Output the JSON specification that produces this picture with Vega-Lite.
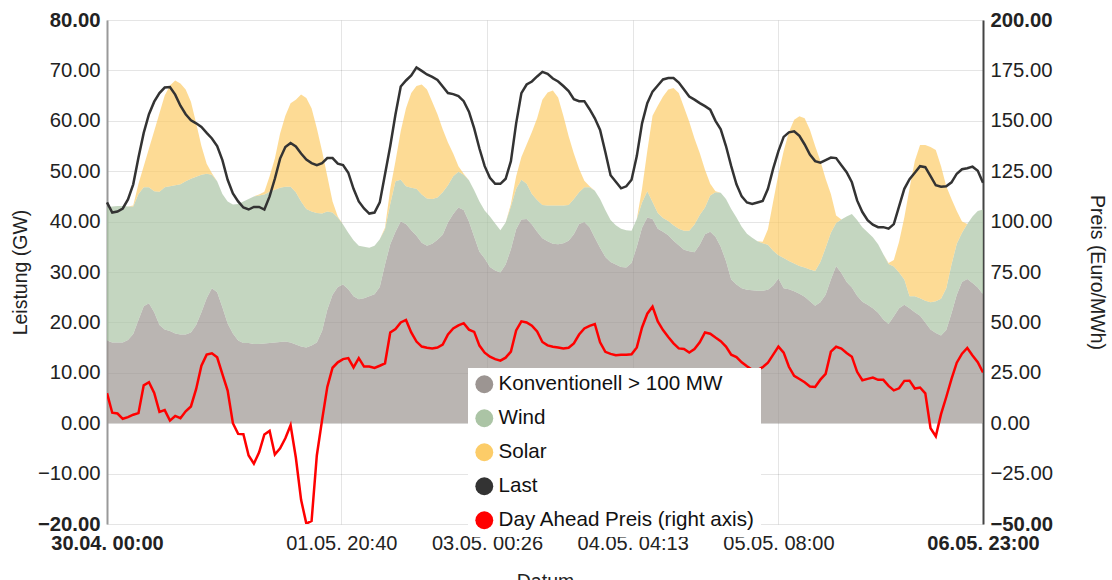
{
"$schema": "https://vega.github.io/schema/vega-lite/v6.json",
"width": 876, "height": 504,
"autosize": {"type": "none"},
"padding": {"left": 107, "top": 20, "right": 129, "bottom": 56},
"config": {"view": {"stroke": null}, "font": "Liberation Sans",
 "axis": {"labelFontSize": 20.3, "labelColor": "#222", "titleFontSize": 19.5, "titleFontWeight": "normal", "titleColor": "#222", "ticks": false}},
"data": {"values": [
{"t":"2018-04-30T00:00","k":16.4,"w":26.4,"s":0,"l":43.8,"p":14.9},
{"t":"2018-04-30T01:00","k":16.0,"w":27.0,"s":0,"l":41.8,"p":5.2},
{"t":"2018-04-30T02:00","k":16.0,"w":27.1,"s":0,"l":42.0,"p":4.8},
{"t":"2018-04-30T03:00","k":16.0,"w":27.1,"s":0,"l":42.6,"p":2.2},
{"t":"2018-04-30T04:00","k":16.5,"w":26.5,"s":0,"l":44.4,"p":3.0},
{"t":"2018-04-30T05:00","k":17.7,"w":25.3,"s":0.2,"l":47.4,"p":4.2},
{"t":"2018-04-30T06:00","k":20.5,"w":25.0,"s":2.0,"l":52.7,"p":5.0},
{"t":"2018-04-30T07:00","k":23.2,"w":23.6,"s":4.2,"l":57.6,"p":18.8},
{"t":"2018-04-30T08:00","k":23.8,"w":23.0,"s":7.7,"l":61.3,"p":20.3},
{"t":"2018-04-30T09:00","k":22.0,"w":24.0,"s":12.0,"l":63.8,"p":15.0},
{"t":"2018-04-30T10:00","k":19.5,"w":26.4,"s":15.6,"l":65.5,"p":5.6},
{"t":"2018-04-30T11:00","k":18.6,"w":28.2,"s":18.2,"l":66.6,"p":6.5},
{"t":"2018-04-30T12:00","k":18.3,"w":28.7,"s":20.0,"l":66.7,"p":1.3},
{"t":"2018-04-30T13:00","k":17.8,"w":29.4,"s":20.8,"l":65.2,"p":3.6},
{"t":"2018-04-30T14:00","k":17.6,"w":29.8,"s":20.0,"l":63.0,"p":2.5},
{"t":"2018-04-30T15:00","k":17.6,"w":30.4,"s":18.2,"l":61.3,"p":5.9},
{"t":"2018-04-30T16:00","k":18.0,"w":30.5,"s":15.3,"l":60.1,"p":8.3},
{"t":"2018-04-30T17:00","k":19.5,"w":29.4,"s":10.6,"l":59.5,"p":17.0},
{"t":"2018-04-30T18:00","k":22.0,"w":27.3,"s":5.7,"l":58.8,"p":28.5},
{"t":"2018-04-30T19:00","k":24.8,"w":24.7,"s":2.0,"l":57.6,"p":34.0},
{"t":"2018-04-30T20:00","k":26.8,"w":22.5,"s":0.3,"l":56.5,"p":34.7},
{"t":"2018-04-30T21:00","k":26.0,"w":22.0,"s":0,"l":55.0,"p":32.7},
{"t":"2018-04-30T22:00","k":23.0,"w":22.5,"s":0,"l":52.2,"p":24.4},
{"t":"2018-04-30T23:00","k":19.8,"w":24.2,"s":0,"l":48.3,"p":16.2},
{"t":"2018-05-01T00:00","k":17.8,"w":25.6,"s":0,"l":45.6,"p":0.0},
{"t":"2018-05-01T01:00","k":16.4,"w":27.1,"s":0,"l":44.0,"p":-5.3},
{"t":"2018-05-01T02:00","k":15.9,"w":28.1,"s":0,"l":42.8,"p":-5.5},
{"t":"2018-05-01T03:00","k":15.9,"w":28.6,"s":0,"l":42.4,"p":-16.0},
{"t":"2018-05-01T04:00","k":15.7,"w":29.3,"s":0,"l":42.9,"p":-20.1},
{"t":"2018-05-01T05:00","k":15.7,"w":29.5,"s":0.2,"l":42.9,"p":-14.4},
{"t":"2018-05-01T06:00","k":15.8,"w":29.6,"s":0.5,"l":42.4,"p":-5.6},
{"t":"2018-05-01T07:00","k":15.9,"w":30.0,"s":3.1,"l":45.0,"p":-3.8},
{"t":"2018-05-01T08:00","k":16.0,"w":30.3,"s":6.2,"l":48.5,"p":-15.5},
{"t":"2018-05-01T09:00","k":16.1,"w":30.6,"s":10.8,"l":52.5,"p":-12.5},
{"t":"2018-05-01T10:00","k":16.2,"w":30.7,"s":14.1,"l":54.8,"p":-7.5},
{"t":"2018-05-01T11:00","k":16.0,"w":30.9,"s":16.6,"l":55.6,"p":-1.0},
{"t":"2018-05-01T12:00","k":15.6,"w":30.2,"s":18.4,"l":54.9,"p":-17.0},
{"t":"2018-05-01T13:00","k":15.2,"w":28.8,"s":21.2,"l":53.5,"p":-38.0},
{"t":"2018-05-01T14:00","k":15.0,"w":27.5,"s":22.0,"l":52.3,"p":-49.8},
{"t":"2018-05-01T15:00","k":15.4,"w":26.6,"s":20.5,"l":51.6,"p":-48.5},
{"t":"2018-05-01T16:00","k":16.0,"w":25.7,"s":16.8,"l":51.2,"p":-16.0},
{"t":"2018-05-01T17:00","k":18.3,"w":23.3,"s":12.4,"l":51.6,"p":1.5},
{"t":"2018-05-01T18:00","k":22.5,"w":19.5,"s":7.0,"l":52.6,"p":18.0},
{"t":"2018-05-01T19:00","k":25.5,"w":16.3,"s":2.2,"l":52.6,"p":27.5},
{"t":"2018-05-01T20:00","k":27.0,"w":13.8,"s":0.2,"l":51.5,"p":30.2},
{"t":"2018-05-01T21:00","k":27.5,"w":11.9,"s":0,"l":51.2,"p":31.8},
{"t":"2018-05-01T22:00","k":26.6,"w":11.2,"s":0,"l":49.7,"p":32.3},
{"t":"2018-05-01T23:00","k":25.2,"w":11.1,"s":0,"l":46.5,"p":27.7},
{"t":"2018-05-02T00:00","k":24.6,"w":10.6,"s":0,"l":44.0,"p":32.3},
{"t":"2018-05-02T01:00","k":24.8,"w":10.2,"s":0,"l":42.6,"p":28.1},
{"t":"2018-05-02T02:00","k":25.2,"w":9.6,"s":0,"l":41.6,"p":28.1},
{"t":"2018-05-02T03:00","k":25.6,"w":9.6,"s":0,"l":41.8,"p":27.4},
{"t":"2018-05-02T04:00","k":27.0,"w":9.5,"s":0,"l":43.8,"p":28.5},
{"t":"2018-05-02T05:00","k":31.5,"w":7.0,"s":0.3,"l":49.4,"p":29.7},
{"t":"2018-05-02T06:00","k":35.5,"w":8.0,"s":3.0,"l":55.0,"p":45.0},
{"t":"2018-05-02T07:00","k":38.0,"w":10.0,"s":4.0,"l":61.3,"p":46.7},
{"t":"2018-05-02T08:00","k":40.0,"w":8.3,"s":9.7,"l":66.8,"p":50.0},
{"t":"2018-05-02T09:00","k":39.5,"w":7.5,"s":15.5,"l":68.0,"p":51.2},
{"t":"2018-05-02T10:00","k":38.3,"w":8.4,"s":18.8,"l":69.0,"p":45.0},
{"t":"2018-05-02T11:00","k":37.2,"w":9.3,"s":20.4,"l":70.6,"p":40.5},
{"t":"2018-05-02T12:00","k":35.8,"w":9.6,"s":21.8,"l":69.9,"p":38.0},
{"t":"2018-05-02T13:00","k":35.2,"w":9.4,"s":21.6,"l":69.2,"p":37.4},
{"t":"2018-05-02T14:00","k":35.6,"w":8.9,"s":19.3,"l":68.7,"p":37.1},
{"t":"2018-05-02T15:00","k":36.4,"w":8.4,"s":16.5,"l":68.1,"p":37.5},
{"t":"2018-05-02T16:00","k":37.4,"w":8.4,"s":12.5,"l":66.8,"p":39.0},
{"t":"2018-05-02T17:00","k":39.8,"w":7.4,"s":8.5,"l":65.5,"p":44.0},
{"t":"2018-05-02T18:00","k":41.5,"w":7.5,"s":4.5,"l":65.3,"p":47.0},
{"t":"2018-05-02T19:00","k":42.8,"w":7.1,"s":1.1,"l":64.9,"p":48.5},
{"t":"2018-05-02T20:00","k":42.3,"w":7.0,"s":0.2,"l":63.9,"p":49.6},
{"t":"2018-05-02T21:00","k":40.0,"w":8.2,"s":0,"l":61.8,"p":46.4},
{"t":"2018-05-02T22:00","k":37.0,"w":9.2,"s":0,"l":58.5,"p":45.3},
{"t":"2018-05-02T23:00","k":34.0,"w":10.0,"s":0,"l":54.5,"p":38.5},
{"t":"2018-05-03T00:00","k":32.7,"w":9.5,"s":0,"l":51.0,"p":35.0},
{"t":"2018-05-03T01:00","k":31.0,"w":10.0,"s":0,"l":48.7,"p":33.0},
{"t":"2018-05-03T02:00","k":30.3,"w":9.3,"s":0,"l":47.5,"p":31.8},
{"t":"2018-05-03T03:00","k":29.9,"w":8.4,"s":0,"l":47.5,"p":31.0},
{"t":"2018-05-03T04:00","k":31.5,"w":8.3,"s":0,"l":48.5,"p":32.5},
{"t":"2018-05-03T05:00","k":34.5,"w":8.5,"s":0.5,"l":52.0,"p":35.5},
{"t":"2018-05-03T06:00","k":38.5,"w":8.0,"s":2.5,"l":59.5,"p":46.0},
{"t":"2018-05-03T07:00","k":40.4,"w":7.9,"s":4.5,"l":65.5,"p":50.5},
{"t":"2018-05-03T08:00","k":40.5,"w":7.0,"s":7.8,"l":67.2,"p":50.0},
{"t":"2018-05-03T09:00","k":39.4,"w":6.1,"s":12.3,"l":67.8,"p":48.4},
{"t":"2018-05-03T10:00","k":38.0,"w":6.3,"s":16.2,"l":68.8,"p":45.5},
{"t":"2018-05-03T11:00","k":36.7,"w":6.6,"s":20.9,"l":69.7,"p":40.3},
{"t":"2018-05-03T12:00","k":36.1,"w":7.1,"s":22.4,"l":69.3,"p":38.6},
{"t":"2018-05-03T13:00","k":35.6,"w":7.6,"s":22.8,"l":68.4,"p":37.9},
{"t":"2018-05-03T14:00","k":35.5,"w":7.7,"s":21.4,"l":67.8,"p":37.6},
{"t":"2018-05-03T15:00","k":35.7,"w":7.5,"s":17.8,"l":66.9,"p":37.1},
{"t":"2018-05-03T16:00","k":36.2,"w":7.1,"s":13.7,"l":65.9,"p":37.4},
{"t":"2018-05-03T17:00","k":37.5,"w":7.0,"s":9.0,"l":64.3,"p":39.6},
{"t":"2018-05-03T18:00","k":39.5,"w":6.3,"s":4.7,"l":63.9,"p":44.0},
{"t":"2018-05-03T19:00","k":39.9,"w":6.9,"s":1.3,"l":63.9,"p":47.0},
{"t":"2018-05-03T20:00","k":38.9,"w":7.9,"s":0.2,"l":62.3,"p":48.3},
{"t":"2018-05-03T21:00","k":36.8,"w":9.3,"s":0,"l":60.5,"p":49.2},
{"t":"2018-05-03T22:00","k":34.8,"w":9.7,"s":0,"l":58.2,"p":40.1},
{"t":"2018-05-03T23:00","k":33.0,"w":9.3,"s":0,"l":53.8,"p":35.4},
{"t":"2018-05-04T00:00","k":32.0,"w":8.3,"s":0,"l":49.2,"p":34.4},
{"t":"2018-05-04T01:00","k":31.5,"w":7.8,"s":0,"l":47.9,"p":33.7},
{"t":"2018-05-04T02:00","k":31.0,"w":7.6,"s":0,"l":46.6,"p":33.9},
{"t":"2018-05-04T03:00","k":30.9,"w":7.4,"s":0,"l":47.0,"p":34.0},
{"t":"2018-05-04T04:00","k":31.8,"w":6.4,"s":0,"l":48.3,"p":34.2},
{"t":"2018-05-04T05:00","k":35.0,"w":5.5,"s":0,"l":53.0,"p":37.6},
{"t":"2018-05-04T06:00","k":38.8,"w":5.0,"s":2.7,"l":59.5,"p":47.5},
{"t":"2018-05-04T07:00","k":40.8,"w":5.2,"s":8.0,"l":63.5,"p":54.3},
{"t":"2018-05-04T08:00","k":40.5,"w":3.4,"s":17.1,"l":65.8,"p":57.8},
{"t":"2018-05-04T09:00","k":38.6,"w":3.1,"s":21.3,"l":67.0,"p":50.5},
{"t":"2018-05-04T10:00","k":38.0,"w":2.7,"s":24.1,"l":68.2,"p":46.2},
{"t":"2018-05-04T11:00","k":37.3,"w":2.8,"s":26.1,"l":68.5,"p":42.8},
{"t":"2018-05-04T12:00","k":36.2,"w":3.1,"s":27.2,"l":68.5,"p":39.6},
{"t":"2018-05-04T13:00","k":35.3,"w":3.3,"s":26.9,"l":67.6,"p":37.1},
{"t":"2018-05-04T14:00","k":34.4,"w":3.8,"s":24.5,"l":66.2,"p":36.8},
{"t":"2018-05-04T15:00","k":34.1,"w":4.1,"s":21.6,"l":64.8,"p":35.1},
{"t":"2018-05-04T16:00","k":33.9,"w":5.5,"s":17.1,"l":64.2,"p":36.8},
{"t":"2018-05-04T17:00","k":35.4,"w":5.9,"s":12.3,"l":63.5,"p":40.1},
{"t":"2018-05-04T18:00","k":37.5,"w":5.3,"s":7.5,"l":62.9,"p":45.0},
{"t":"2018-05-04T19:00","k":38.0,"w":7.2,"s":2.3,"l":62.2,"p":44.4},
{"t":"2018-05-04T20:00","k":37.0,"w":8.8,"s":0.2,"l":60.0,"p":42.5},
{"t":"2018-05-04T21:00","k":35.0,"w":10.7,"s":0,"l":58.3,"p":40.7},
{"t":"2018-05-04T22:00","k":32.2,"w":12.3,"s":0,"l":55.0,"p":38.0},
{"t":"2018-05-04T23:00","k":28.5,"w":14.0,"s":0,"l":51.0,"p":34.0},
{"t":"2018-05-05T00:00","k":27.5,"w":13.3,"s":0,"l":47.4,"p":32.8},
{"t":"2018-05-05T01:00","k":26.8,"w":12.2,"s":0,"l":45.0,"p":30.2},
{"t":"2018-05-05T02:00","k":26.5,"w":11.1,"s":0,"l":43.8,"p":28.2},
{"t":"2018-05-05T03:00","k":26.4,"w":10.4,"s":0,"l":43.5,"p":26.5},
{"t":"2018-05-05T04:00","k":26.3,"w":9.8,"s":0,"l":43.8,"p":26.4},
{"t":"2018-05-05T05:00","k":26.3,"w":9.4,"s":0.3,"l":44.1,"p":27.8},
{"t":"2018-05-05T06:00","k":26.5,"w":8.9,"s":3.1,"l":46.5,"p":30.0},
{"t":"2018-05-05T07:00","k":27.3,"w":6.9,"s":9.8,"l":50.5,"p":34.0},
{"t":"2018-05-05T08:00","k":28.7,"w":4.6,"s":16.1,"l":54.0,"p":38.0},
{"t":"2018-05-05T09:00","k":26.8,"w":6.0,"s":21.2,"l":56.8,"p":35.0},
{"t":"2018-05-05T10:00","k":26.6,"w":5.6,"s":25.6,"l":57.7,"p":28.0},
{"t":"2018-05-05T11:00","k":26.2,"w":5.5,"s":28.5,"l":57.9,"p":23.5},
{"t":"2018-05-05T12:00","k":25.7,"w":5.5,"s":29.7,"l":57.0,"p":21.9},
{"t":"2018-05-05T13:00","k":25.1,"w":5.8,"s":29.6,"l":55.3,"p":20.3},
{"t":"2018-05-05T14:00","k":24.2,"w":6.3,"s":27.7,"l":53.3,"p":18.2},
{"t":"2018-05-05T15:00","k":23.3,"w":6.9,"s":24.8,"l":52.0,"p":18.0},
{"t":"2018-05-05T16:00","k":24.0,"w":8.0,"s":20.0,"l":51.7,"p":21.6},
{"t":"2018-05-05T17:00","k":25.5,"w":9.3,"s":13.7,"l":52.2,"p":24.5},
{"t":"2018-05-05T18:00","k":28.5,"w":9.3,"s":7.7,"l":52.7,"p":35.5},
{"t":"2018-05-05T19:00","k":31.2,"w":8.5,"s":1.5,"l":52.6,"p":37.9},
{"t":"2018-05-05T20:00","k":29.8,"w":10.6,"s":0,"l":51.2,"p":37.0},
{"t":"2018-05-05T21:00","k":28.0,"w":13.0,"s":0,"l":49.8,"p":34.8},
{"t":"2018-05-05T22:00","k":26.9,"w":14.6,"s":0,"l":47.8,"p":33.0},
{"t":"2018-05-05T23:00","k":25.3,"w":15.0,"s":0,"l":44.2,"p":25.5},
{"t":"2018-05-06T00:00","k":24.1,"w":14.8,"s":0,"l":41.9,"p":21.3},
{"t":"2018-05-06T01:00","k":23.5,"w":14.4,"s":0,"l":40.3,"p":22.0},
{"t":"2018-05-06T02:00","k":22.8,"w":14.1,"s":0,"l":39.4,"p":22.6},
{"t":"2018-05-06T03:00","k":21.9,"w":13.6,"s":0,"l":38.9,"p":21.5},
{"t":"2018-05-06T04:00","k":20.6,"w":12.9,"s":0,"l":38.9,"p":21.5},
{"t":"2018-05-06T05:00","k":19.7,"w":11.9,"s":0.2,"l":38.6,"p":18.5},
{"t":"2018-05-06T06:00","k":21.2,"w":9.9,"s":1.3,"l":39.5,"p":16.3},
{"t":"2018-05-06T07:00","k":22.8,"w":7.1,"s":6.1,"l":43.0,"p":17.3},
{"t":"2018-05-06T08:00","k":23.5,"w":5.0,"s":12.3,"l":46.5,"p":21.0},
{"t":"2018-05-06T09:00","k":22.8,"w":2.4,"s":21.4,"l":48.4,"p":21.1},
{"t":"2018-05-06T10:00","k":22.0,"w":3.2,"s":26.8,"l":49.7,"p":17.2},
{"t":"2018-05-06T11:00","k":21.3,"w":3.5,"s":30.4,"l":51.0,"p":17.7},
{"t":"2018-05-06T12:00","k":20.0,"w":4.3,"s":30.9,"l":50.8,"p":14.8},
{"t":"2018-05-06T13:00","k":18.6,"w":5.4,"s":30.8,"l":49.0,"p":-2.5},
{"t":"2018-05-06T14:00","k":17.9,"w":6.3,"s":30.0,"l":47.2,"p":-6.5},
{"t":"2018-05-06T15:00","k":17.4,"w":7.3,"s":26.3,"l":46.9,"p":4.5},
{"t":"2018-05-06T16:00","k":18.5,"w":8.3,"s":20.2,"l":47.0,"p":13.0},
{"t":"2018-05-06T17:00","k":21.8,"w":9.7,"s":13.0,"l":47.8,"p":22.0},
{"t":"2018-05-06T18:00","k":25.5,"w":10.1,"s":6.5,"l":49.5,"p":30.0},
{"t":"2018-05-06T19:00","k":28.0,"w":9.8,"s":2.2,"l":50.4,"p":34.5},
{"t":"2018-05-06T20:00","k":28.6,"w":10.9,"s":0,"l":50.6,"p":37.3},
{"t":"2018-05-06T21:00","k":27.8,"w":13.2,"s":0,"l":50.9,"p":33.6},
{"t":"2018-05-06T22:00","k":26.9,"w":15.2,"s":0,"l":50.1,"p":30.3},
{"t":"2018-05-06T23:00","k":25.6,"w":16.8,"s":0,"l":47.7,"p":25.2}
]},
"encoding": {
 "x": {"field": "t", "type": "temporal",
  "scale": {"domain": [{"year": 2018, "month": 4, "date": 30, "hours": 0}, {"year": 2018, "month": 5, "date": 6, "hours": 23}], "nice": false},
  "axis": {"values": [
    {"year": 2018, "month": 4, "date": 30, "hours": 0},
    {"year": 2018, "month": 5, "date": 1, "hours": 20, "minutes": 40},
    {"year": 2018, "month": 5, "date": 3, "hours": 0, "minutes": 26, "seconds": 40},
    {"year": 2018, "month": 5, "date": 4, "hours": 4, "minutes": 13, "seconds": 20},
    {"year": 2018, "month": 5, "date": 5, "hours": 8, "minutes": 0},
    {"year": 2018, "month": 5, "date": 6, "hours": 23, "minutes": 0}],
   "format": "%d.%m. %H:%M", "labelFlush": false, "labelOverlap": false, "labelPadding": 9, "labelFontSize": 20,
   "domain": false, "grid": true, "gridColor": "#000", "gridOpacity": 0.1,
   "title": "Datum", "titlePadding": 19,
   "labelFontWeight": {"expr": "(datum.value <= datetime(2018,3,30,1) || datum.value >= datetime(2018,4,6,22)) ? 'bold' : 'normal'"}}}
},
"layer": [
 {"transform": [
   {"fold": ["k", "w", "s"], "as": ["key", "val"]},
   {"calculate": "datum.key == 'k' ? 'Konventionell > 100 MW' : (datum.key == 'w' ? 'Wind' : 'Solar')", "as": "series"},
   {"calculate": "datum.key == 'k' ? 0 : (datum.key == 'w' ? 1 : 2)", "as": "ord"}],
  "mark": {"type": "area", "opacity": 0.7},
  "encoding": {
   "y": {"field": "val", "type": "quantitative", "stack": "zero",
    "scale": {"domain": [-20, 80], "nice": false, "zero": false},
    "axis": {"orient": "left", "values": [-20, -10, 0, 10, 20, 30, 40, 50, 60, 70, 80], "format": ".2f",
     "title": "Leistung (GW)", "titlePadding": 7, "labelPadding": 7,
     "grid": true, "gridColor": "#000", "gridOpacity": 0.1,
     "domainColor": "#999", "domainWidth": 2,
     "labelFontWeight": {"expr": "(datum.value == 80 || datum.value == -20) ? 'bold' : 'normal'"}}},
   "order": {"field": "ord", "type": "quantitative"},
   "color": {"field": "series", "type": "nominal",
    "scale": {"domain": ["Konventionell > 100 MW", "Wind", "Solar", "Last", "Day Ahead Preis (right axis)"],
              "range": ["#9c9592", "#abc4a5", "#fccc68", "#333333", "#ff0000"]},
    "legend": {"orient": "none", "legendX": 361, "legendY": 348, "title": null,
     "fillColor": "white", "padding": 6, "symbolType": "circle", "symbolSize": 320,
     "symbolOpacity": 1, "symbolStrokeWidth": 0, "labelFontSize": 20.6, "labelColor": "#111",
     "labelFont": "Liberation Sans", "labelOffset": 4, "rowPadding": 13, "zindex": 2, "labelLimit": 400,
     "encode": {"symbols": {"update": {"fill": {"scale": "color", "field": "value"}, "stroke": {"value": "transparent"}, "opacity": {"value": 1}}}}}}
  }},
 {"mark": {"type": "line", "strokeWidth": 2.5},
  "encoding": {
   "y": {"field": "l", "type": "quantitative", "scale": {"domain": [-20, 80], "nice": false, "zero": false}, "axis": null},
   "color": {"datum": "Last"}}},
 {"mark": {"type": "line", "strokeWidth": 2.5, "clip": true},
  "encoding": {
   "y": {"field": "p", "type": "quantitative", "scale": {"domain": [-50, 200], "nice": false, "zero": false},
    "axis": {"orient": "right", "values": [-50, -25, 0, 25, 50, 75, 100, 125, 150, 175, 200], "format": ".2f",
     "title": "Preis (Euro/MWh)", "titlePadding": 34, "labelPadding": 7, "grid": false,
     "domainColor": "#444", "domainWidth": 2,
     "labelFontWeight": {"expr": "(datum.value == 200 || datum.value == -50) ? 'bold' : 'normal'"}}},
   "color": {"datum": "Day Ahead Preis (right axis)"}}}
],
"resolve": {"scale": {"y": "independent"}}
}
